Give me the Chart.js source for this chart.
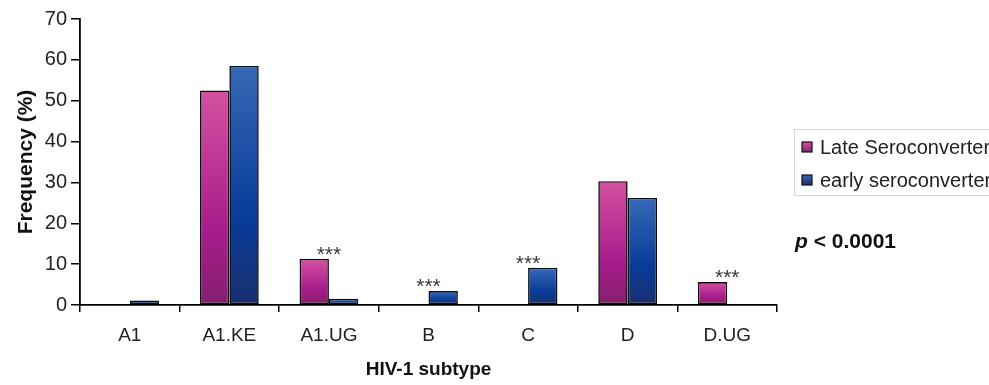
<!DOCTYPE html>
<html>
<head>
<meta charset="utf-8">
<script src="https://cdn.jsdelivr.net/npm/chart.js@4.4.1/dist/chart.umd.min.js"></script>
<style>
  html, body { margin: 0; padding: 0; background: #fff; }
  #wrap { position: relative; width: 989px; height: 385px; }
</style>
</head>
<body>
<div id="wrap"><canvas id="chart"></canvas></div>
<script>
const subtypes   = ['A1', 'A1.KE', 'A1.UG', 'B', 'C', 'D', 'D.UG'];
const lateSero   = [0, 52.5, 11.3, 0, 0, 30.3, 5.6];
const earlySero  = [1.1, 58.5, 1.5, 3.4, 9.1, 26.2, 0];
const seriesNames = ['Late Seroconverter', 'early seroconverter'];
const starred    = ['A1.UG', 'B', 'C', 'D.UG'];   // *** marks
const yTicks     = [0, 10, 20, 30, 40, 50, 60, 70];
const pText      = '< 0.0001';

const pinkStops = ['#d4519f', '#a81c8c', '#861f6e'];
const blueStops = ['#3669b6', '#083b98', '#1b2f6f'];

function barGradient(stops) {
    return function (ctx) {
        const chart = ctx.chart;
        if (!chart.chartArea || ctx.type !== 'data' || !ctx.parsed) return stops[1];
        const y = chart.scales.y;
        const top = y.getPixelForValue(ctx.parsed.y);
        const bottom = y.getPixelForValue(0);
        if (bottom - top < 1) return stops[1];
        const g = chart.ctx.createLinearGradient(0, top, 0, bottom);
        g.addColorStop(0, stops[0]);
        g.addColorStop(0.65, stops[1]);
        g.addColorStop(1, stops[2]);
        return g;
    };
}

const notes = {
    id: 'notes',
    afterDraw(chart) {
        const c = chart.ctx;
        const x = chart.scales.x, y = chart.scales.y;
        c.save();

        // significance stars
        c.fillStyle = '#3a3a3a';
        c.font = '21px "Liberation Sans", Arial, sans-serif';
        c.textAlign = 'center';
        c.textBaseline = 'alphabetic';
        starred.forEach(cat => {
            const i = subtypes.indexOf(cat);
            const top = y.getPixelForValue(Math.max(lateSero[i], earlySero[i]));
            c.fillText('***', x.getPixelForValue(i), top + 2);
        });

        // legend
        c.strokeStyle = '#d8d8d8';
        c.lineWidth = 1;
        c.strokeRect(794.5, 129.5, 220, 66);
        const cols = [pinkStops, blueStops];
        c.font = '20px "Liberation Sans", Arial, sans-serif';
        c.textAlign = 'left';
        c.textBaseline = 'middle';
        seriesNames.forEach((name, k) => {
            const cy = 147 + k * 33;
            const g = c.createLinearGradient(0, cy - 5, 0, cy + 5);
            g.addColorStop(0, cols[k][0]);
            g.addColorStop(1, cols[k][2]);
            c.fillStyle = g;
            c.fillRect(802, cy - 5, 10, 10);
            c.strokeStyle = '#111';
            c.lineWidth = 1.2;
            c.strokeRect(802, cy - 5, 10, 10);
            c.fillStyle = '#222';
            c.fillText(name, 820, cy + 1);
        });

        // p value
        c.fillStyle = '#111';
        c.font = 'italic bold 21px "Liberation Sans", Arial, sans-serif';
        c.fillText('p', 795, 242);
        const w = c.measureText('p ').width;
        c.font = 'bold 21px "Liberation Sans", Arial, sans-serif';
        c.fillText(pText, 795 + w, 242);
        c.restore();
    }
};

new Chart(document.getElementById('chart'), {
    type: 'bar',
    data: {
        labels: subtypes,
        datasets: [
            { label: seriesNames[0], data: lateSero, backgroundColor: barGradient(pinkStops) },
            { label: seriesNames[1], data: earlySero, backgroundColor: barGradient(blueStops) }
        ]
    },
    options: {
        responsive: true,
        maintainAspectRatio: false,
        animation: false,
        layout: { padding: { top: 19, right: 212, left: 0, bottom: 0 } },
        datasets: {
            bar: {
                categoryPercentage: 0.59,
                barPercentage: 1,
                borderColor: '#0d0d0d',
                borderWidth: ctx => (ctx.raw ? 1.6 : 0),
                borderSkipped: false
            }
        },
        plugins: { legend: { display: false }, tooltip: { enabled: false } },
        scales: {
            x: {
                afterFit: s => { s.height = 80; },
                grid: { display: true, drawOnChartArea: false, offset: true, tickLength: 7, color: '#000', lineWidth: 1.5 },
                border: { display: true, color: '#000', width: 1.8 },
                ticks: { color: '#222', padding: 12, font: { family: '"Liberation Sans", Arial, sans-serif', size: 19 } },
                title: {
                    display: true, text: 'HIV-1 subtype', color: '#111',
                    padding: { top: 4, bottom: 4 },
                    font: { family: '"Liberation Sans", Arial, sans-serif', size: 19, weight: 'bold' }
                }
            },
            y: {
                min: 0, max: 70,
                afterFit: s => { s.width = 80; },
                afterBuildTicks: s => { s.ticks = yTicks.map(v => ({ value: v })); },
                grid: { display: true, drawOnChartArea: false, tickLength: 9, color: '#000', lineWidth: 1.5 },
                border: { display: true, color: '#000', width: 1.8 },
                ticks: { color: '#222', padding: 4, font: { family: '"Liberation Sans", Arial, sans-serif', size: 20 } },
                title: {
                    display: true, text: 'Frequency (%)', color: '#111',
                    padding: { top: 14, bottom: 14 },
                    font: { family: '"Liberation Sans", Arial, sans-serif', size: 21, weight: 'bold' }
                }
            }
        }
    },
    plugins: [notes]
});
</script>
</body>
</html>
